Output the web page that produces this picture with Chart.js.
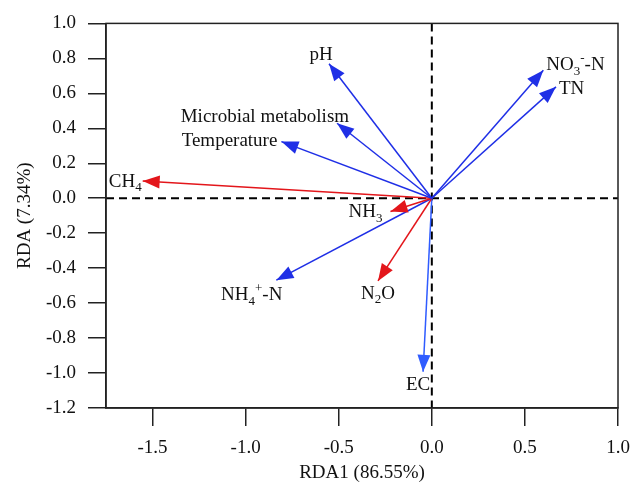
<!DOCTYPE html>
<html>
<head>
<meta charset="utf-8">
<script src="https://cdn.jsdelivr.net/npm/chart.js@4"></script>
<style>
html,body{margin:0;padding:0;background:#fff;}
#wrap{width:644px;height:484px;position:relative;}
</style>
</head>
<body>
<div id="wrap"><canvas id="c" width="644" height="484"></canvas></div>
<script>
// ---- data ----
const variables = ["pH","Microbial metabolism","Temperature","CH4","NO3- -N","TN","NH3","NH4+-N","N2O","EC"];
const rda1 = [-0.552,-0.509,-0.808,-1.553,0.599,0.667,-0.222,-0.835,-0.289,-0.047];
const rda2 = [0.769,0.429,0.324,0.099,0.732,0.637,-0.076,-0.469,-0.473,-0.993];
const groups = ["env","env","env","gas","env","env","gas","env","gas","env"];
const xTicks = [-1.5,-1.0,-0.5,0.0,0.5,1.0];
const yTicks = [-1.2,-1.0,-0.8,-0.6,-0.4,-0.2,0.0,0.2,0.4,0.6,0.8,1.0];
const xTitle = "RDA1 (86.55%)";
const yTitle = "RDA (7.34%)";

// ---- styles ----
const colors = {env:"#1f2fe6", gas:"#e3161b"};
const ecColor = "#2f5cff";
// label rich text: segments [text, mode] mode: n normal, b subscript, p superscript
const labelSegs = [
  [["pH","n"]],
  [["Microbial metabolism","n"]],
  [["Temperature","n"]],
  [["CH","n"],["4","b"]],
  [["NO","n"],["3","b"],["-","p"],["-N","n"]],
  [["TN","n"]],
  [["NH","n"],["3","b"]],
  [["NH","n"],["4","b"],["+","p"],["-N","n"]],
  [["N","n"],["2","b"],["O","n"]],
  [["EC","n"]]
];
// align, dx, dy (pixel offsets from arrow tip)
const labelPos = [
  ["center",-8,-9],
  ["right",12,-6],
  ["right",-4,-1],
  ["right",-1,1],
  ["left",3,-5],
  ["left",3,2],
  ["right",-8,1],
  ["right",6,15],
  ["center",0,13],
  ["center",-5,13]
];
const FONT = "'Liberation Serif','Times New Roman',serif";

const datasets = variables.map((v,i)=>({
  label: v,
  data: [{x:0,y:0},{x:rda1[i],y:rda2[i]}],
  showLine: true,
  borderColor: v==="EC" ? ecColor : colors[groups[i]],
  backgroundColor: v==="EC" ? ecColor : colors[groups[i]],
  borderWidth: 1.5,
  pointRadius: 0,
  pointHoverRadius: 0,
  tension: 0
}));

const rdaPlugin = {
  id: "rda",
  beforeDatasetsDraw(chart){
    const {ctx, chartArea:a, scales:{x,y}} = chart;
    ctx.save();
    ctx.strokeStyle = "#000";
    ctx.lineWidth = 2;
    ctx.setLineDash([8,5]);
    const x0 = x.getPixelForValue(0), y0 = y.getPixelForValue(0);
    ctx.beginPath(); ctx.moveTo(a.left, y0); ctx.lineTo(a.right, y0); ctx.stroke();
    ctx.beginPath(); ctx.moveTo(x0, a.top); ctx.lineTo(x0, a.bottom); ctx.stroke();
    ctx.restore();
  },
  afterDatasetsDraw(chart){
    const {ctx, scales:{x,y}} = chart;
    const x0 = x.getPixelForValue(0), y0 = y.getPixelForValue(0);
    ctx.save();
    variables.forEach((v,i)=>{
      const px = x.getPixelForValue(rda1[i]), py = y.getPixelForValue(rda2[i]);
      const ang = Math.atan2(py-y0, px-x0);
      const L = 17, W = 6.5;
      const bx = px - L*Math.cos(ang), by = py - L*Math.sin(ang);
      ctx.fillStyle = datasets[i].borderColor;
      ctx.beginPath();
      ctx.moveTo(px,py);
      ctx.lineTo(bx + W*Math.sin(ang), by - W*Math.cos(ang));
      ctx.lineTo(bx - W*Math.sin(ang), by + W*Math.cos(ang));
      ctx.closePath();
      ctx.fill();
      // label
      const segs = labelSegs[i];
      const [align,dx,dy] = labelPos[i];
      const fonts = {n:"19px "+FONT, b:"13px "+FONT, p:"13px "+FONT};
      const offs = {n:0, b:6, p:-7};
      let total = 0;
      const widths = segs.map(([t,m])=>{ctx.font = fonts[m]; const w = ctx.measureText(t).width; total += w; return w;});
      let sx = px + dx;
      if(align==="center") sx -= total/2; else if(align==="right") sx -= total;
      const sy = py + dy;
      ctx.fillStyle = "#111";
      ctx.textBaseline = "middle";
      ctx.textAlign = "left";
      segs.forEach(([t,m],k)=>{
        ctx.font = fonts[m];
        ctx.fillText(t, sx, sy + offs[m]);
        sx += widths[k];
      });
    });
    ctx.restore();
  },
  afterDraw(chart){
    const {ctx, chartArea:a} = chart;
    ctx.save();
    ctx.strokeStyle = "#222";
    ctx.lineWidth = 1.5;
    ctx.setLineDash([]);
    ctx.strokeRect(a.left, a.top, a.right-a.left, a.bottom-a.top);
    // axis titles
    ctx.fillStyle = "#111";
    ctx.font = "19px "+FONT;
    ctx.textAlign = "center";
    ctx.textBaseline = "middle";
    ctx.fillText(xTitle, (a.left+a.right)/2, 473);
    ctx.translate(25, (a.top+a.bottom)/2);
    ctx.rotate(-Math.PI/2);
    ctx.fillText(yTitle, 0, 0);
    ctx.restore();
  }
};

new Chart(document.getElementById("c"), {
  type: "scatter",
  data: {datasets},
  options: {
    responsive: false,
    animation: false,
    events: [],
    layout: {padding: {left:0, top:20, right:26, bottom:0}},
    plugins: {legend:{display:false}, tooltip:{enabled:false}},
    scales: {
      x: {
        type: "linear", min: -1.75, max: 1.0,
        afterBuildTicks: s => { s.ticks = xTicks.map(v=>({value:v})); },
        afterFit: s => { s.height = 76; },
        ticks: {color:"#111", font:{family:FONT, size:19}, padding:11, maxRotation:0, autoSkip:false,
                callback: v => Number(v).toFixed(1)},
        grid: {drawOnChartArea:false, drawTicks:true, tickLength:18, color:"#222", lineWidth:1.5},
        border: {display:true, color:"#222", width:1.5}
      },
      y: {
        type: "linear", min: -1.2, max: 1.0,
        afterBuildTicks: s => { s.ticks = yTicks.map(v=>({value:v})); },
        afterFit: s => { s.width = 106; },
        ticks: {color:"#111", font:{family:FONT, size:19}, padding:12, autoSkip:false,
                callback: v => Number(v).toFixed(1)},
        grid: {drawOnChartArea:false, drawTicks:true, tickLength:18, color:"#222", lineWidth:1.5},
        border: {display:true, color:"#222", width:1.5}
      }
    }
  },
  plugins: [rdaPlugin]
});
</script>
</body>
</html>
